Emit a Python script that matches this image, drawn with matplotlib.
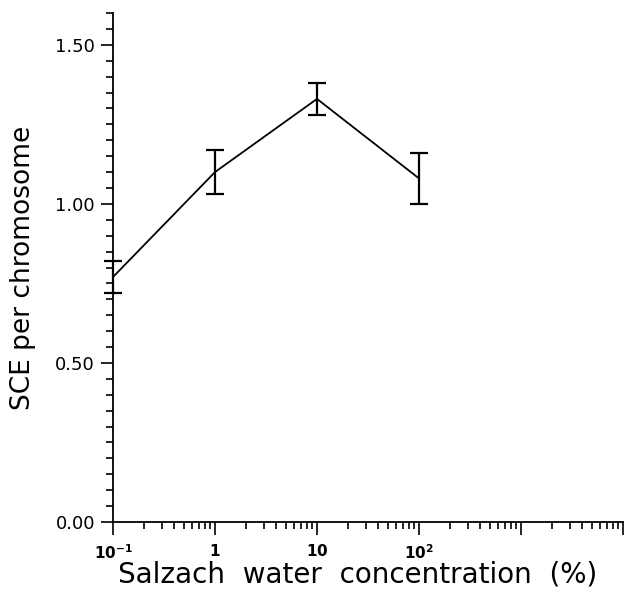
import matplotlib
matplotlib.use("Agg")
import matplotlib.pyplot as plt
from matplotlib.ticker import FixedLocator, MultipleLocator, LogLocator, NullFormatter

# Salzach water concentration (%) vs SCE per chromosome
conc = [0.1, 1, 10, 100]
sce = [0.77, 1.10, 1.33, 1.08]
sce_err = [0.05, 0.07, 0.05, 0.08]

xtick_vals = [0.1, 1, 10, 100]
xtick_labels = [r"$\mathbf{10^{-1}}$", r"$\mathbf{1}$", r"$\mathbf{10}$", r"$\mathbf{10^{2}}$"]
ytick_vals = [0.0, 0.5, 1.0, 1.5]

fig = plt.figure(figsize=(6.28, 5.93), dpi=100)
ax = fig.add_axes([113 / 628, 1 - 522 / 593, (623 - 113) / 628, (522 - 13) / 593])

ax.errorbar(conc, sce, yerr=sce_err, color="black", lw=1.3,
            elinewidth=1.6, capsize=6.5, capthick=1.6, clip_on=False)

ax.set_xscale("log")
ax.set_xlim(0.1, 1e4)
ax.set_ylim(0, 1.6)

ax.spines["top"].set_visible(False)
ax.spines["right"].set_visible(False)
ax.spines["left"].set_linewidth(1.3)
ax.spines["bottom"].set_linewidth(1.3)

ax.xaxis.set_major_locator(LogLocator(base=10, numticks=10))
ax.xaxis.set_minor_locator(LogLocator(base=10, subs=range(2, 10), numticks=20))
ax.xaxis.set_minor_formatter(NullFormatter())
ax.set_xticks(xtick_vals + [1e3, 1e4])
ax.set_xticklabels(xtick_labels + ["", ""])

ax.yaxis.set_major_locator(FixedLocator(ytick_vals))
ax.yaxis.set_minor_locator(MultipleLocator(0.05))
ax.set_yticklabels([f"{v:.2f}" for v in ytick_vals])

ax.tick_params(axis="both", which="major", direction="out", width=1.2, length=9,
               colors="black")
ax.tick_params(axis="both", which="minor", direction="out", width=1.2, length=5)
ax.tick_params(axis="y", labelsize=13, pad=4)
ax.tick_params(axis="x", labelsize=11, pad=6)

ax.set_ylabel("SCE per chromosome", fontsize=19, labelpad=14)
ax.set_xlabel("Salzach  water  concentration  (%)", fontsize=20, va="top")
ax.xaxis.set_label_coords(0.48, -0.075)

fig.savefig("out.png", dpi=100)
